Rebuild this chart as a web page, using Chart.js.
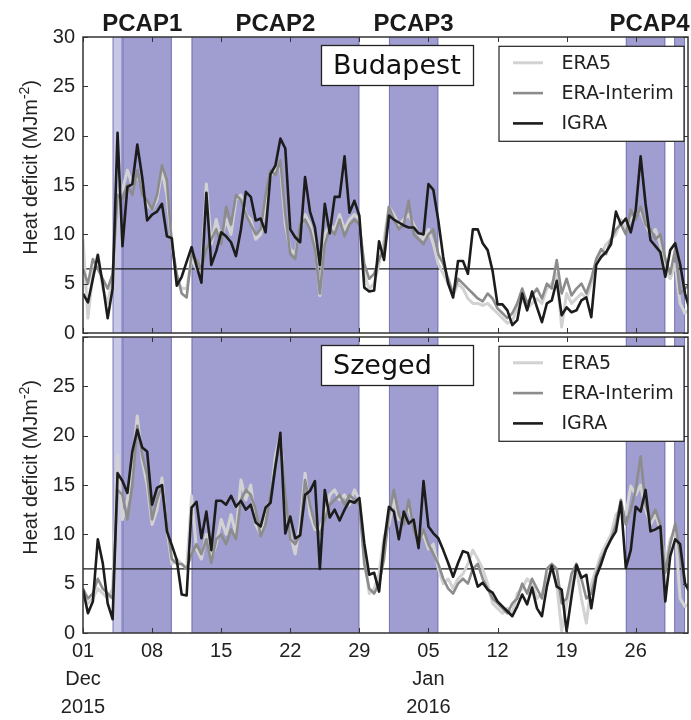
<!DOCTYPE html>
<html lang="en">
<head>
<meta charset="UTF-8">
<title>Heat deficit - Budapest and Szeged</title>
<script src="https://cdn.jsdelivr.net/npm/chart.js"></script>
<style>
  html, body { margin: 0; padding: 0; background: #fff; overflow: hidden; }
  #wrap { position: relative; width: 691px; height: 720px; }
  canvas { position: absolute; left: 0; }
  #topPanel { top: 0; }
  #bottomPanel { top: 300px; }
</style>
</head>
<body>
<div id="wrap">
  <canvas id="topPanel" width="691" height="360"></canvas>
  <canvas id="bottomPanel" width="691" height="420"></canvas>
</div>
<script>
// values every 12 h, starting 01 Dec 2015 00 UTC (x in days)
const stepDays = 0.5;
const xMax = 61.3;

const era5Budapest = [
  9.5, 1.5, 6.0, 8.0, 4.5, 3.0, 5.5, 13.5, 14.5, 16.5,
  15.0, 16.0, 14.5, 13.0, 12.5, 13.5, 16.5, 14.0, 9.0, 5.5,
  4.5, 4.5, 7.5, 6.5, 6.0, 15.1, 9.0, 11.5, 9.5, 11.5,
  10.0, 13.5, 14.0, 12.0, 11.5, 9.5, 10.0, 13.0, 16.0, 16.5,
  17.0, 11.0, 8.5, 8.0, 10.5, 12.0, 11.0, 9.0, 3.8, 10.0,
  11.0, 10.5, 12.0, 10.5, 11.5, 12.0, 11.5, 6.0, 4.5, 5.0,
  7.0, 9.5, 12.8, 12.0, 11.0, 11.5, 12.0, 11.0, 10.0, 9.5,
  10.5, 9.0, 7.0, 6.0, 5.0, 3.8, 5.0, 4.5, 3.5, 3.0,
  3.0, 2.8, 3.0, 2.5, 2.0, 1.5, 1.0, 1.2, 2.5, 3.5,
  2.5, 3.0, 3.5, 3.0, 4.5, 5.0, 6.0, 0.6, 4.0, 3.0,
  3.5, 4.0, 3.5, 5.0, 7.0, 8.0, 9.0, 9.5, 10.0, 11.5,
  10.5, 11.5, 12.0, 12.3, 11.0, 10.0, 10.5, 9.0, 6.5, 5.5,
  7.0, 3.0, 2.0, 2.5
];
const eraiBudapest = [
  6.5, 5.0, 7.5, 6.5, 5.5, 4.5, 6.0, 14.0, 13.5, 15.0,
  14.0, 16.5, 14.0, 13.5, 12.5, 14.0, 17.0, 15.5, 9.0, 6.0,
  4.0, 3.6, 8.0, 7.4, 6.5, 8.5, 9.5, 10.5, 9.0, 12.8,
  11.0, 14.0, 13.5, 12.0, 11.0, 10.0, 10.5, 14.0, 16.5, 16.0,
  17.5, 12.0, 8.0, 7.5, 11.0, 11.5, 10.5, 8.5, 4.0, 9.0,
  10.5, 10.0, 11.5, 9.8, 11.0, 11.5, 11.0, 7.0, 5.5, 6.0,
  7.5, 8.5, 12.8, 11.5, 10.5, 11.0, 13.4, 10.0, 9.5, 9.0,
  10.0, 10.5, 8.0, 7.0, 5.5, 4.0, 5.5, 5.0, 4.5, 4.0,
  3.5, 3.2, 4.0, 3.5, 2.5, 2.0, 1.5, 2.0, 3.0, 4.5,
  3.0, 3.8, 4.5, 3.5, 5.0, 4.5, 7.4, 4.0, 5.5, 3.8,
  4.5, 5.0, 4.0, 5.5, 7.5, 8.5, 8.0, 9.5, 10.5, 11.0,
  10.0, 12.5, 11.5, 12.8, 11.0, 10.5, 9.5, 10.0, 7.5, 6.0,
  8.5, 4.0, 4.5, 5.0
];
const igraBudapest = [
  4.0, 3.1, 5.5, 7.9, 5.0, 1.5, 4.5, 20.3, 8.8, 14.8,
  15.1, 19.1, 15.8, 11.4, 12.0, 12.3, 13.1, 9.8, 9.6, 4.8,
  5.7, 7.2, 8.7, 6.8, 5.1, 14.2, 6.9, 8.3, 10.2, 9.8,
  9.2, 7.8, 10.5, 14.3, 13.8, 11.4, 11.6, 10.2, 16.1, 17.0,
  19.7, 18.7, 10.5, 9.7, 9.2, 15.8, 12.3, 10.7, 6.9, 13.1,
  10.1, 13.8, 13.8, 17.9, 12.2, 13.4, 11.9, 4.6, 4.2, 4.3,
  9.3, 7.4, 11.9, 11.5, 11.2, 10.9, 10.7, 10.7, 10.1, 10.0,
  15.1, 14.5, 11.4, 7.7, 5.0, 3.6, 7.3, 7.3, 6.0, 10.5,
  10.5, 9.1, 8.4, 6.3, 2.9, 2.9, 2.3, 0.8, 1.3, 4.0,
  2.3, 4.2, 2.6, 1.1, 3.0, 3.3, 5.3, 1.8, 2.6, 2.1,
  2.3, 3.3, 3.6, 1.6, 6.9, 7.7, 8.2, 9.0, 12.3, 11.0,
  11.6, 10.2, 12.4, 17.9, 13.1, 9.4, 8.8, 8.2, 5.7, 8.4,
  9.1, 7.0, 4.0, 2.3
];

const era5Szeged = [
  4.0, 3.0, 3.5, 4.5, 4.0, 3.5, 4.5, 18.0, 11.5, 13.5,
  17.0, 22.0, 17.5, 15.0, 11.0, 12.5, 15.7, 10.5, 7.0, 7.5,
  7.0, 6.5, 13.9, 8.5, 7.5, 10.0, 7.5, 9.0, 11.5, 10.0,
  12.0, 10.0, 15.5, 13.5, 15.0, 11.0, 10.0, 12.5, 13.5, 18.0,
  20.1, 13.0, 10.0, 8.0, 11.0, 16.2, 12.0, 10.5, 10.5, 12.0,
  14.0, 14.5, 13.5, 14.0, 13.0, 14.5, 13.5, 8.0, 4.0, 4.5,
  6.0, 9.8, 11.0, 13.5, 11.5, 12.0, 12.5, 11.0, 9.5, 10.0,
  8.5, 9.0, 6.5, 5.0, 5.5, 4.5, 5.5, 6.0, 7.0, 8.4,
  7.5, 6.5, 5.0, 3.0, 2.5, 2.0, 2.5, 2.0, 4.0, 4.5,
  5.5, 5.0, 3.5, 4.0, 5.5, 6.5, 5.0, 0.2, 3.0, 5.0,
  6.5, 3.5, 1.0, 5.0, 6.5, 8.0, 9.0, 10.0, 12.0, 12.5,
  12.0, 14.9, 14.0, 15.0, 12.5, 11.0, 12.0, 10.5, 7.0, 9.5,
  10.5, 3.5, 2.7, 3.0
];
const eraiSzeged = [
  4.5, 3.5, 4.0, 5.5, 4.5, 4.0, 3.5, 14.5, 14.0, 11.5,
  15.0, 21.0, 18.0, 16.0, 11.5, 13.5, 15.0, 11.0, 7.5, 7.0,
  7.0, 6.5, 8.0, 9.0, 8.0, 9.5, 7.1, 9.5, 10.0, 9.0,
  10.5, 9.5, 13.5, 14.5, 14.0, 12.5, 9.8, 11.0, 14.0, 17.0,
  19.3, 14.0, 9.5, 9.0, 10.0, 15.5, 13.0, 11.0, 10.0, 11.5,
  13.0, 13.5, 14.0, 13.0, 14.0, 13.5, 13.0, 7.0, 4.5, 4.0,
  5.0, 7.5, 12.0, 14.5, 12.0, 11.0, 13.5, 10.5, 9.0, 10.5,
  9.0, 8.0, 7.0, 5.5, 4.5, 4.0, 5.0, 5.5, 5.0, 6.5,
  7.0, 5.5, 4.5, 3.5, 3.0, 2.5, 2.0, 3.0, 3.5, 5.0,
  4.0, 5.5, 4.5, 3.5, 6.5, 7.0, 6.5, 3.0, 3.5, 6.0,
  7.0, 5.5, 3.5, 4.0, 6.0, 7.5, 8.5, 9.5, 11.0, 13.5,
  11.0, 12.5, 14.5, 17.9, 13.0, 11.5, 12.5, 11.0, 6.1, 9.0,
  11.1, 8.0, 4.8, 5.0
];
const igraSzeged = [
  4.4, 2.0, 3.2, 9.5, 7.1, 3.0, 1.4, 16.2, 15.4, 14.2,
  18.4, 20.6, 18.8, 18.4, 13.0, 14.7, 15.0, 10.3, 8.9, 7.4,
  3.9, 3.8, 12.7, 13.3, 9.6, 12.3, 8.4, 13.4, 13.4, 13.0,
  13.9, 12.8, 13.4, 12.5, 13.0, 11.2, 10.8, 12.7, 13.2, 16.9,
  20.3, 10.1, 11.8, 9.6, 9.9, 14.0, 14.4, 15.4, 6.5, 14.5,
  11.7, 12.5, 11.4, 12.5, 13.4, 13.2, 13.7, 9.1, 5.9, 6.1,
  4.2, 9.1, 12.8, 12.3, 9.5, 12.3, 11.1, 11.5, 8.6, 15.4,
  10.8, 10.1, 9.6, 8.4, 7.1, 5.7, 7.1, 8.3, 8.1, 6.4,
  4.7, 5.1, 4.4, 4.1, 3.2, 2.7, 2.2, 1.7, 2.7, 3.9,
  2.9, 4.6, 2.5, 1.7, 4.7, 6.8, 4.7, 4.4, 0.2, 3.7,
  6.9, 5.6, 5.9, 2.5, 5.7, 7.0, 8.5, 9.5, 10.3, 13.3,
  6.6, 8.4, 12.8, 12.3, 14.5, 10.3, 10.5, 10.8, 3.2, 7.8,
  9.5, 9.0, 5.0, 4.1
];

const tickDays = [0, 7, 14, 21, 28, 35, 42, 49, 56];
const tickLabels = [['01', 'Dec', '2015'], '08', '15', '22', '29', ['05', 'Jan', '2016'], '12', '19', '26'];
const yTicks = [0, 5, 10, 15, 20, 25, 30];

const pcapNames = ['PCAP1', 'PCAP2', 'PCAP3', 'PCAP4'];
const pcapLabelDays = [6, 19.5, 33.5, 57.4];
const bandStart = [4, 11, 31, 55, 59.9];
const bandEnd = [9, 28, 36, 59, 61];
const lightStart = [3];
const lightEnd = [4];
const threshold = 6.5;

const seriesNames = ['ERA5', 'ERA-Interim', 'IGRA'];
const seriesColors = ['#d2d2d2', '#8c8c8c', '#1c1c1c'];
const seriesWidths = [3, 2.6, 2.6];

function toPoints(values) {
  return values.map((v, i) => ({ x: i * stepDays, y: v }));
}

function drawYTitle(ctx, baseX, topEnd) {
  const main1 = 'Heat deficit (MJm', sup = '-2', main2 = ')';
  ctx.save();
  ctx.fillStyle = '#222';
  ctx.font = '20px "Liberation Sans", Arial, sans-serif';
  const w1 = ctx.measureText(main1).width;
  const w3 = ctx.measureText(main2).width;
  ctx.font = '14px "Liberation Sans", Arial, sans-serif';
  const w2 = ctx.measureText(sup).width;
  ctx.translate(baseX, topEnd + w1 + w2 + w3);
  ctx.rotate(-Math.PI / 2);
  ctx.textBaseline = 'alphabetic';
  ctx.textAlign = 'left';
  ctx.font = '20px "Liberation Sans", Arial, sans-serif';
  ctx.fillText(main1, 0, 0);
  ctx.fillText(main2, w1 + w2, 0);
  ctx.font = '14px "Liberation Sans", Arial, sans-serif';
  ctx.fillText(sup, w1, -8);
  ctx.restore();
}

const panelPlugin = {
  id: 'panel',
  beforeDatasetsDraw(chart) {
    const { ctx, chartArea: a, scales: { x, y } } = chart;
    ctx.save();
    ctx.beginPath();
    ctx.rect(a.left, a.top, a.right - a.left, a.bottom - a.top);
    ctx.clip();
    const band = (s, e, fill) => {
      const x0 = x.getPixelForValue(s), x1 = x.getPixelForValue(e);
      ctx.fillStyle = fill;
      ctx.fillRect(x0, a.top, x1 - x0, a.bottom - a.top);
      ctx.strokeStyle = 'rgba(112,110,178,0.85)';
      ctx.lineWidth = 1;
      ctx.beginPath();
      ctx.moveTo(x0 + 0.5, a.top); ctx.lineTo(x0 + 0.5, a.bottom);
      ctx.moveTo(x1 - 0.5, a.top); ctx.lineTo(x1 - 0.5, a.bottom);
      ctx.stroke();
    };
    lightStart.forEach((s, i) => band(s, lightEnd[i], 'rgb(201,199,231)'));
    bandStart.forEach((s, i) => band(s, bandEnd[i], 'rgb(160,158,208)'));
    const ty = y.getPixelForValue(threshold);
    ctx.strokeStyle = '#1a1a1a';
    ctx.lineWidth = 1.2;
    ctx.beginPath();
    ctx.moveTo(a.left, ty); ctx.lineTo(a.right, ty);
    ctx.stroke();
    ctx.restore();
  },
  afterDatasetsDraw(chart, args, opts) {
    const { ctx, chartArea: a, scales: { x, y } } = chart;
    ctx.save();
    // frame and inward ticks
    ctx.strokeStyle = '#333';
    ctx.lineWidth = 1.5;
    ctx.strokeRect(a.left, a.top, a.right - a.left, a.bottom - a.top);
    ctx.lineWidth = 1;
    ctx.beginPath();
    tickDays.forEach(d => {
      const px = Math.round(x.getPixelForValue(d)) + 0.5;
      ctx.moveTo(px, a.top); ctx.lineTo(px, a.top + 5);
      ctx.moveTo(px, a.bottom); ctx.lineTo(px, a.bottom - 5);
    });
    yTicks.forEach(v => {
      const py = Math.round(y.getPixelForValue(v)) + 0.5;
      ctx.moveTo(a.left, py); ctx.lineTo(a.left + 5, py);
      ctx.moveTo(a.right, py); ctx.lineTo(a.right - 5, py);
    });
    ctx.stroke();

    // station box
    ctx.fillStyle = '#fff';
    ctx.fillRect(321.5, a.top + 8.5, 152, 40);
    ctx.strokeStyle = '#222';
    ctx.lineWidth = 1.3;
    ctx.strokeRect(321.5, a.top + 8.5, 152, 40);
    ctx.fillStyle = '#111';
    ctx.font = '27px "DejaVu Sans", sans-serif';
    ctx.textAlign = 'left';
    ctx.textBaseline = 'alphabetic';
    ctx.fillText(opts.station, 333, a.top + 36.5);

    // legend
    const lx = 499, ly = a.top + 9.3;
    ctx.fillStyle = '#fff';
    ctx.fillRect(lx, ly, 185, 95);
    ctx.strokeStyle = '#222';
    ctx.lineWidth = 1.2;
    ctx.strokeRect(lx, ly, 185, 95);
    ctx.font = '19px "DejaVu Sans", sans-serif';
    ctx.textBaseline = 'middle';
    seriesNames.forEach((name, i) => {
      const ry = ly + 16.5 + i * 30.3;
      ctx.strokeStyle = seriesColors[i];
      ctx.lineWidth = seriesWidths[i];
      ctx.beginPath();
      ctx.moveTo(513, ry); ctx.lineTo(543, ry);
      ctx.stroke();
      ctx.fillStyle = '#222';
      ctx.fillText(name, 561.5, ry + 1);
    });

    // y title
    drawYTitle(ctx, 37, a.top + 43);

    // PCAP labels
    if (opts.pcap) {
      ctx.fillStyle = '#1a1a1a';
      ctx.font = 'bold 24px "Liberation Sans", Arial, sans-serif';
      ctx.textAlign = 'center';
      ctx.textBaseline = 'alphabetic';
      pcapNames.forEach((n, i) => ctx.fillText(n, x.getPixelForValue(pcapLabelDays[i]), 30.5));
    }
    ctx.restore();
  }
};

const tickFont = { family: '"Liberation Sans", Arial, sans-serif', size: 20, lineHeight: 1.4 };

function makePanel(id, era5, erai, igra, cfg) {
  return new Chart(document.getElementById(id), {
    type: 'line',
    data: {
      datasets: [
        { label: seriesNames[2], data: toPoints(igra), borderColor: seriesColors[2], borderWidth: seriesWidths[2] },
        { label: seriesNames[1], data: toPoints(erai), borderColor: seriesColors[1], borderWidth: seriesWidths[1] },
        { label: seriesNames[0], data: toPoints(era5), borderColor: seriesColors[0], borderWidth: seriesWidths[0] }
      ]
    },
    options: {
      responsive: false,
      animation: false,
      events: [],
      layout: { padding: { top: cfg.padTop, right: 3, bottom: cfg.padBottom, left: 0 } },
      elements: {
        point: { radius: 0 },
        line: { tension: 0, fill: false, borderJoinStyle: 'round' }
      },
      plugins: {
        legend: { display: false },
        tooltip: { enabled: false },
        panel: { station: cfg.station, pcap: cfg.pcap }
      },
      scales: {
        x: {
          type: 'linear',
          min: 0,
          max: xMax,
          display: cfg.showX,
          afterBuildTicks: s => { s.ticks = tickDays.map(v => ({ value: v })); },
          afterFit: s => { s.height = cfg.showX ? 87 : 0; },
          grid: { display: false, drawTicks: false },
          border: { display: false },
          ticks: {
            autoSkip: false,
            maxRotation: 0,
            padding: 4,
            color: '#222',
            font: tickFont,
            callback: v => tickLabels[tickDays.indexOf(v)]
          }
        },
        y: {
          min: 0,
          max: 30,
          afterBuildTicks: s => { s.ticks = yTicks.map(v => ({ value: v })); },
          afterFit: s => { s.width = 83; },
          grid: { display: false, drawTicks: false },
          border: { display: false },
          ticks: {
            padding: 8,
            color: '#222',
            font: tickFont,
            callback: v => (cfg.hideTop && v === 30) ? '' : String(v)
          }
        }
      }
    },
    plugins: [panelPlugin]
  });
}

makePanel('topPanel', era5Budapest, eraiBudapest, igraBudapest,
  { station: 'Budapest', pcap: true, showX: false, hideTop: false, padTop: 37, padBottom: 27 });
makePanel('bottomPanel', era5Szeged, eraiSzeged, igraSzeged,
  { station: 'Szeged', pcap: false, showX: true, hideTop: true, padTop: 37, padBottom: 0 });
</script>
</body>
</html>
